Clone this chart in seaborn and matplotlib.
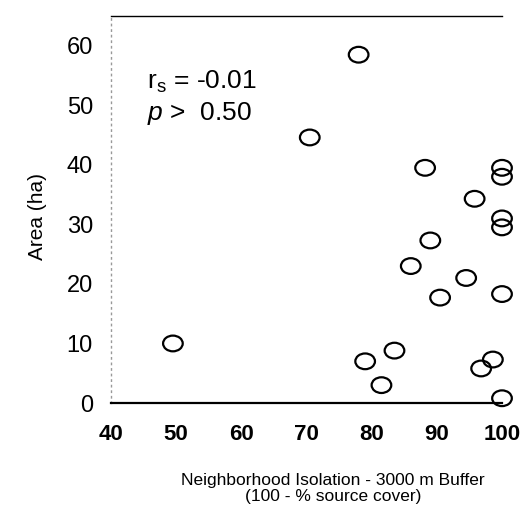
import matplotlib
matplotlib.use("Agg")
import matplotlib.pyplot as plt
import seaborn as sns
import numpy as np
import pandas as pd
from matplotlib.path import Path

# Data
isolation = [78, 70.5, 88.2, 100, 100, 95.8, 100, 100, 89, 86, 94.5, 90.5, 100, 49.5, 79, 83.5, 81.5, 96.8, 98.6, 100]
area = [58.5, 44.6, 39.5, 39.5, 38, 34.3, 31, 29.5, 27.3, 23, 21, 17.7, 18.3, 10, 7, 8.8, 3, 5.8, 7.3, 0.8]
x_ticks = [40, 50, 60, 70, 80, 90, 100]
y_ticks = [0, 10, 20, 30, 40, 50, 60]

df = pd.DataFrame({"isolation": isolation, "area": area})

sns.set_style("white")
plt.rcParams["font.family"] = ["Liberation Sans", "DejaVu Sans"]
plt.rcParams["mathtext.fontset"] = "custom"
plt.rcParams["mathtext.rm"] = "Liberation Sans"
plt.rcParams["mathtext.it"] = "Liberation Sans:italic"
plt.rcParams["text.color"] = "black"
plt.rcParams["xtick.color"] = "black"
plt.rcParams["ytick.color"] = "black"
plt.rcParams["axes.labelcolor"] = "black"

fig = plt.figure(figsize=(5.29, 5.14), dpi=100)
ax = fig.add_axes([111 / 529, 1 - 403 / 514, 391 / 529, 387 / 514])

uc = Path.unit_circle()
ellipse = Path(uc.vertices * np.array([1.0, 0.8]), uc.codes)

sns.scatterplot(data=df, x="isolation", y="area", ax=ax, marker=ellipse, s=200,
                facecolor="none", edgecolor="black", linewidth=1.6, clip_on=False,
                legend=False)

ax.set_xlim(40, 100)
ax.set_ylim(0, 65)
ax.set_xticks(x_ticks)
ax.set_yticks(y_ticks)
ax.set_xticklabels([str(t) for t in x_ticks], fontsize=16, fontweight="bold")
ax.set_yticklabels([str(t) for t in y_ticks], fontsize=17)
ax.tick_params(axis="x", length=0, pad=15)
ax.tick_params(axis="y", length=2, width=1.5, pad=11, color="black")

for side in ["top", "bottom"]:
    ax.spines[side].set_visible(True)
    ax.spines[side].set_color("black")
ax.spines["top"].set_linewidth(1.0)
ax.spines["bottom"].set_linewidth(1.6)
ax.spines["left"].set_visible(True)
ax.spines["left"].set_color("#999999")
ax.spines["left"].set_linestyle((0, (1, 3)))
ax.spines["left"].set_linewidth(1.0)
ax.spines["right"].set_visible(False)

ax.set_xlabel("Neighborhood Isolation - 3000 m Buffer\n(100 - % source cover)",
              fontsize=12.5, linespacing=1.05)
ax.xaxis.set_label_coords((333 - 111) / 391, (403 - 473) / 387)
ax.set_ylabel("Area (ha)", fontsize=15)
ax.yaxis.set_label_coords((47 - 111) / 391, (403 - 217) / 387)

ax.text(45.6, 54.0, r"$\mathregular{r_s}$ = -0.01", fontsize=19, va="center", ha="left")
ax.text(45.6, 48.6, r"$p$ >  0.50", fontsize=19, va="center", ha="left")

fig.savefig("out.png", dpi=100)
